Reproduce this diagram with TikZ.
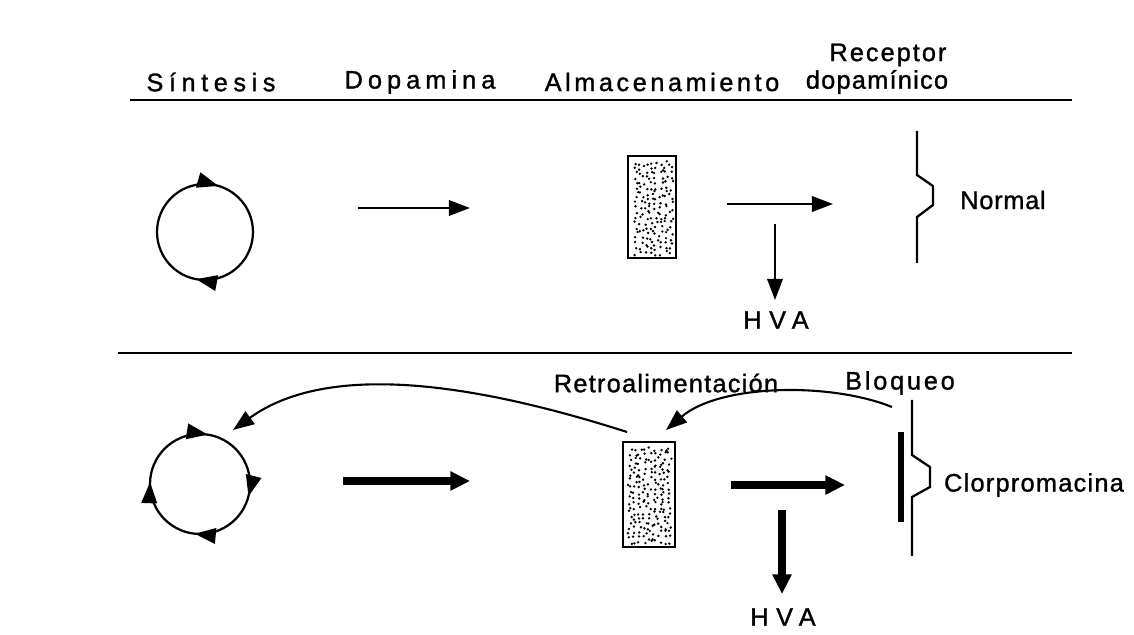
\documentclass[tikz,border=0pt]{standalone}
\usepackage{fontspec}
\setmainfont{Liberation Sans}
\newfontfamily\lblfont[FakeBold=1.2]{Liberation Sans}
\usetikzlibrary{arrows.meta,decorations.markings}
\newcommand{\ls}[2]{{\addfontfeature{LetterSpace=#1}#2}}
\begin{document}
\begin{tikzpicture}[x=0.025cm,y=0.025cm,
  lab/.style={inner sep=0pt,font=\lblfont\fontsize{18}{20}\selectfont},
  thinln/.style={line width=1.6pt},
  thinarr/.style={line width=1.5pt,-{Triangle[length=15pt,width=11pt]}},
  thickarr/.style={line width=5.2pt,-{Triangle[length=14pt,width=13pt]}},
  rule/.style={line width=1.7pt},
  cyc/.style={line width=1.6pt},
  storebox/.style={draw,line width=2pt,fill=white}
]
\useasboundingbox (0,0) rectangle (1134,-635);
\fill[white] (0,0) rectangle (1134,-635);

% headings
\node[lab] (h1) at (211,-82) {\ls{22}{Síntesis}};
\node[lab] (h2) at (420,-82) {\ls{20}{Dopamina}};
\node[lab] (h3) at (662,-82) {\ls{14}{Almacenamiento}};
\node[lab] (h4a) at (888,-55) {\ls{8}{Receptor}};
\node[lab] (h4b) at (877,-82) {\ls{5}{dopamínico}};
\coordinate (r1a) at (130,-100);
\coordinate (r1b) at (1072,-100);
\draw[rule] (r1a) -- (r1b);
\coordinate (r2a) at (118,-353);
\coordinate (r2b) at (1072,-353);
\draw[rule] (r2a) -- (r2b);

% ---------- top (Normal) ----------
\node[circle,minimum size=2.4cm,inner sep=0pt] (c1) at (205,-232) {};
\draw[cyc,postaction={decorate},decoration={markings,
   mark=at position 0.205 with {\arrowreversed{Triangle[length=15pt,width=11pt]}},
   mark=at position 0.72 with {\arrowreversed{Triangle[length=15pt,width=11pt]}}}]
   (c1.center) circle[radius=48];

\coordinate (d1a) at (358,-208);
\coordinate (d1b) at (470,-208);
\draw[thinarr] (d1a) -- (d1b);

\node[storebox,minimum width=1.2cm,minimum height=2.55cm,inner sep=0pt] (s1) at (652,-207) {};
\pgfmathsetseed{11}
\foreach \c in {0,...,7}{
  \foreach \r in {0,...,18}{
    \fill ({634+\c*5+rnd*4.5},{-161-\r*5-rnd*4.5}) circle[radius=0.95pt];
  }
}

\coordinate (o1a) at (727,-204);
\coordinate (o1b) at (833,-204);
\draw[thinarr] (o1a) -- (o1b);
\coordinate (v1a) at (775,-224);
\node[lab] (hva1) at (776,-320) {\ls{30}{HVA}};
\coordinate (v1b) at (775,-300);
\draw[thinarr] (v1a) -- (v1b);

\coordinate (rc1a) at (917,-131);
\coordinate (rc1b) at (917,-263);
\draw[thinln] (rc1a) -- (917,-175) -- (933,-186) -- (933,-205) -- (917,-217) -- (rc1b);
\node[lab] (nor) at (1003,-200) {\ls{3}{Normal}};

% ---------- bottom (Clorpromacina) ----------
\node[circle,minimum size=2.5cm,inner sep=0pt] (c2) at (200,-484) {};
\draw[cyc,postaction={decorate},decoration={markings,
   mark=at position 0.225 with {\arrowreversed{Triangle[length=15pt,width=11pt]}},
   mark=at position 0.494 with {\arrowreversed{Triangle[length=15pt,width=11pt]}},
   mark=at position 0.733 with {\arrowreversed{Triangle[length=15pt,width=11pt]}},
   mark=at position 0.96 with {\arrowreversed{Triangle[length=15pt,width=11pt]}}}]
   (c2.center) circle[radius=50];

\coordinate (d2a) at (343,-481);
\coordinate (d2b) at (470,-481);
\draw[thickarr] (d2a) -- (d2b);

\node[storebox,minimum width=1.3cm,minimum height=2.62cm,inner sep=0pt] (s2) at (649,-494.5) {};
\pgfmathsetseed{23}
\foreach \c in {0,...,8}{
  \foreach \r in {0,...,19}{
    \fill ({628+\c*4.9+rnd*4.3},{-447-\r*4.9-rnd*4.3}) circle[radius=0.95pt];
  }
}

\coordinate (o2a) at (731,-485);
\coordinate (o2b) at (845,-485);
\draw[thickarr] (o2a) -- (o2b);
\coordinate (v2a) at (782,-510);
\coordinate (v2b) at (782,-594);
\draw[thickarr] (v2a) -- (v2b);
\node[lab] (hva2) at (783,-617) {\ls{30}{HVA}};

\coordinate (rc2a) at (912,-400);
\coordinate (rc2b) at (912,-556);
\draw[thinln] (rc2a) -- (912,-455) -- (930,-467) -- (930,-487) -- (912,-497) -- (rc2b);
\coordinate (bl2a) at (901,-432);
\coordinate (bl2b) at (901,-522);
\draw[line width=4pt] (bl2a) -- (bl2b);
\node[lab] (clo) at (1034,-485) {\ls{5}{Clorpromacina}};

\node[lab] (retro) at (666,-383) {\ls{5}{Retroalimentación}};
\node[lab] (bloq) at (900,-383) {\ls{11}{Bloqueo}};

% feedback curves
\coordinate (f1a) at (627,-432);
\coordinate (f1b) at (233,-430);
\draw[thinarr] (f1a) .. controls (480,-385) and (330,-360) .. (f1b);
\coordinate (f2a) at (892,-407);
\coordinate (f2b) at (666,-430);
\draw[thinarr] (f2a) .. controls (830,-382) and (720,-384) .. (f2b);
\end{tikzpicture}
\end{document}
